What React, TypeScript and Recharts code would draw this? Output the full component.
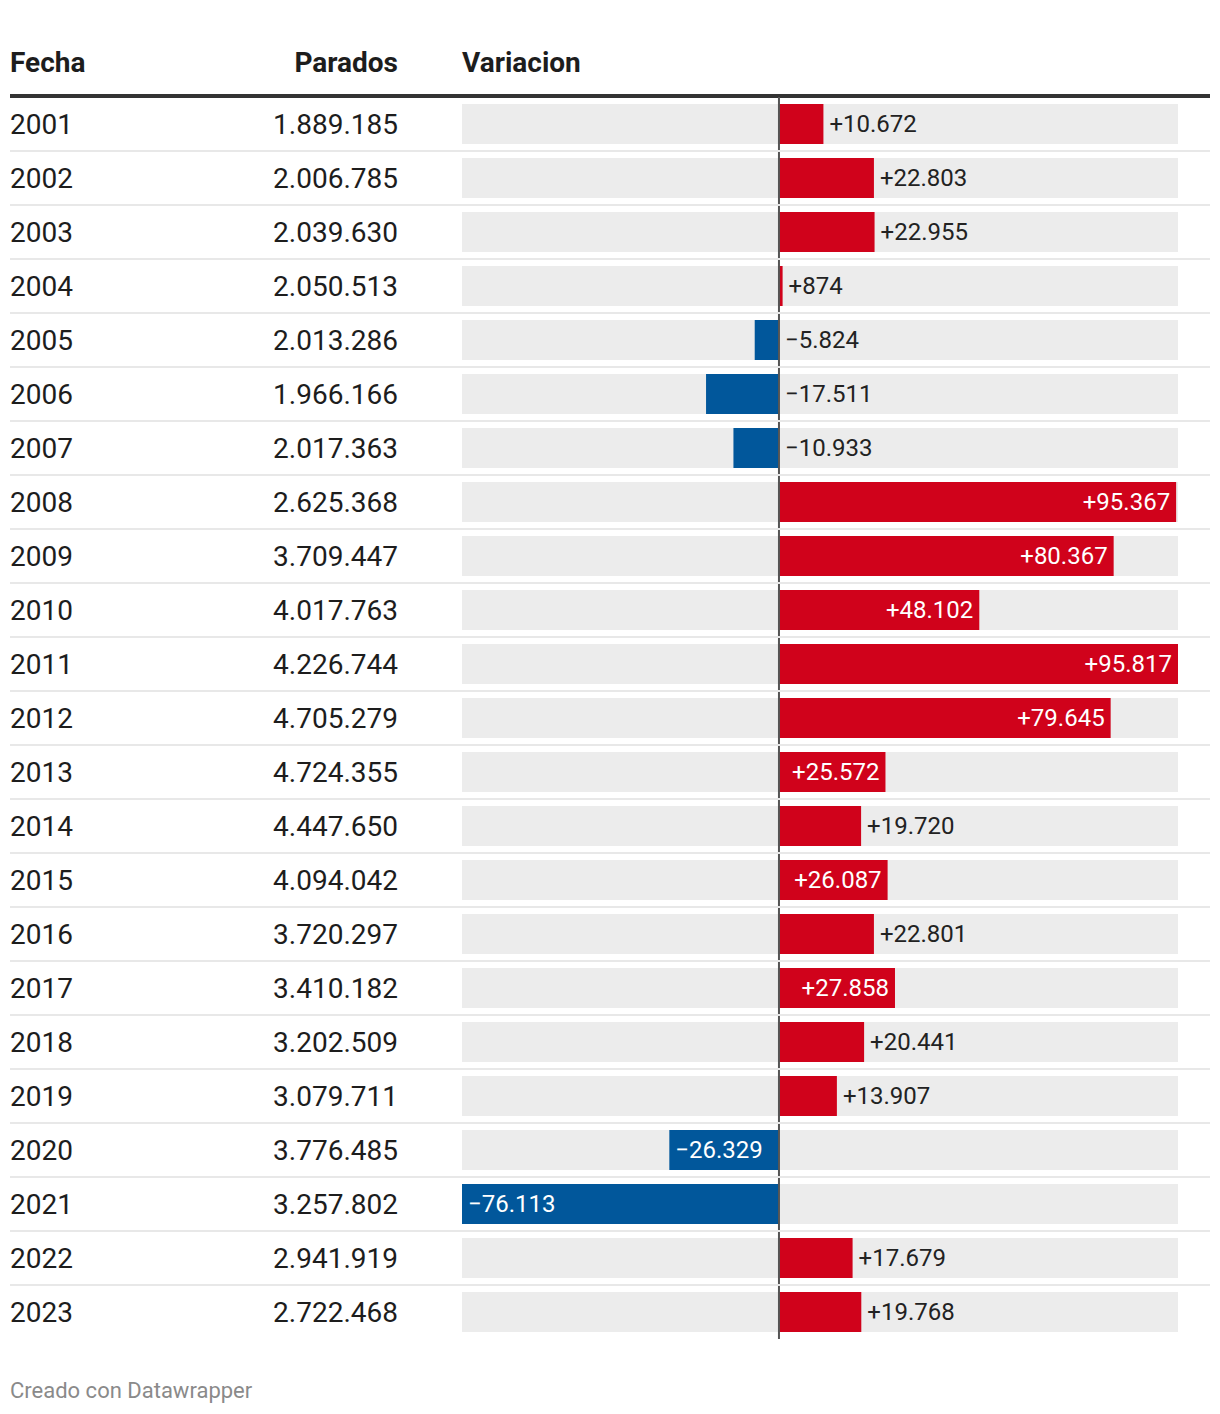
import { BarChart, Bar, XAxis, YAxis, Cell, LabelList, ReferenceLine } from 'recharts'

const years = [
  '2001', '2002', '2003', '2004', '2005', '2006', '2007', '2008', '2009', '2010', '2011', '2012',
  '2013', '2014', '2015', '2016', '2017', '2018', '2019', '2020', '2021', '2022', '2023',
]

const parados = [
  1889185, 2006785, 2039630, 2050513, 2013286, 1966166, 2017363, 2625368, 3709447, 4017763, 4226744, 4705279,
  4724355, 4447650, 4094042, 3720297, 3410182, 3202509, 3079711, 3776485, 3257802, 2941919, 2722468,
]

const variacion = [
  10672, 22803, 22955, 874, -5824, -17511, -10933, 95367, 80367, 48102, 95817, 79645,
  25572, 19720, 26087, 22801, 27858, 20441, 13907, -26329, -76113, 17679, 19768,
]

const RED = '#d0021b'
const BLUE = '#01579b'
const FONT = 'Roboto, "Noto Sans", sans-serif'

const data = years.map((y, i) => ({ year: y, value: variacion[i] }))

const thousands = (n: number) => String(Math.abs(n)).replace(/\B(?=(\d{3})+(?!\d))/g, '.')
const fmt = (v: number) => (v < 0 ? '\u2212' : '+') + thousands(v)

const LABEL_SIZE = 24
const textWidth = (s: string) => {
  let w = 0
  for (const ch of s) w += ch === '.' ? 0.263 : ch >= '0' && ch <= '9' ? 0.5615 : 0.568
  return w * LABEL_SIZE
}

function RowTick(props: any) {
  const { y, payload, index } = props
  const i = payload?.index ?? index
  return (
    <g>
      <text x={2} y={y} dominantBaseline="central" fontSize={28} fill="#1d1d1d" fontFamily={FONT}>
        {payload.value}
      </text>
      <text x={390} y={y} textAnchor="end" dominantBaseline="central" fontSize={28} fill="#1d1d1d" fontFamily={FONT}>
        {thousands(parados[i])}
      </text>
      {i < years.length - 1 && <line x1={2} x2={1202} y1={y + 27} y2={y + 27} stroke="#e8e8e8" strokeWidth={2} />}
    </g>
  )
}

function BarLabel(props: any) {
  const x = Number(props.x)
  const y = Number(props.y)
  const w = Number(props.width)
  const h = Number(props.height)
  const v = Number(props.value)
  const txt = fmt(v)
  const left = Math.min(x, x + w)
  const right = Math.max(x, x + w)
  const bw = right - left
  const inside = bw >= textWidth(txt) + 14
  const cy = y + h / 2
  let tx = 0
  let anchor: 'start' | 'end' = 'start'
  if (v >= 0) {
    if (inside) { tx = right - 6; anchor = 'end' } else tx = right + 6
  } else {
    if (inside) tx = left + 6
    else tx = right + 6
  }
  return (
    <text x={tx} y={cy} textAnchor={anchor} dominantBaseline="central" fontSize={LABEL_SIZE}
      fill={inside ? '#ffffff' : '#222222'} fontFamily={FONT}>
      {txt}
    </text>
  )
}

export default function App() {
  return (
    <div style={{ position: 'relative', width: 1204, height: 1398, fontFamily: FONT, background: '#fff' }}>
      <div style={{ position: 'absolute', left: 2, top: 39, fontSize: 28, fontWeight: 700, color: '#1d1d1d', lineHeight: '32px' }}>Fecha</div>
      <div style={{ position: 'absolute', right: 814, top: 39, fontSize: 28, fontWeight: 700, color: '#1d1d1d', lineHeight: '32px' }}>Parados</div>
      <div style={{ position: 'absolute', left: 454, top: 39, fontSize: 28, fontWeight: 700, color: '#1d1d1d', lineHeight: '32px' }}>Variacion</div>
      <div style={{ position: 'absolute', left: 2, top: 86, width: 1200, height: 4, background: '#333' }} />
      <div style={{ position: 'absolute', left: 0, top: 89 }}>
        <BarChart width={1204} height={1242} data={data} layout="vertical" margin={{ top: 0, right: 34, bottom: 0, left: 0 }}>
          <XAxis type="number" hide domain={[-76113, 95817]} />
          <YAxis type="category" dataKey="year" width={454} interval={0} tickLine={false} axisLine={false} tick={(p: any) => <RowTick {...p} />} />
          <Bar dataKey="value" barSize={40} background={{ fill: '#ececec' }} isAnimationActive={false}>
            {data.map((d, i) => (
              <Cell key={i} fill={d.value < 0 ? BLUE : RED} />
            ))}
            <LabelList dataKey="value" content={(p: any) => <BarLabel {...p} />} />
          </Bar>
          <ReferenceLine x={0} stroke="#555" strokeWidth={2} ifOverflow="extendDomain" />
        </BarChart>
      </div>
      <div style={{ position: 'absolute', left: 2, top: 1370, fontSize: 22, color: '#8a8a8a', lineHeight: '26px' }}>Creado con Datawrapper</div>
    </div>
  )
}
